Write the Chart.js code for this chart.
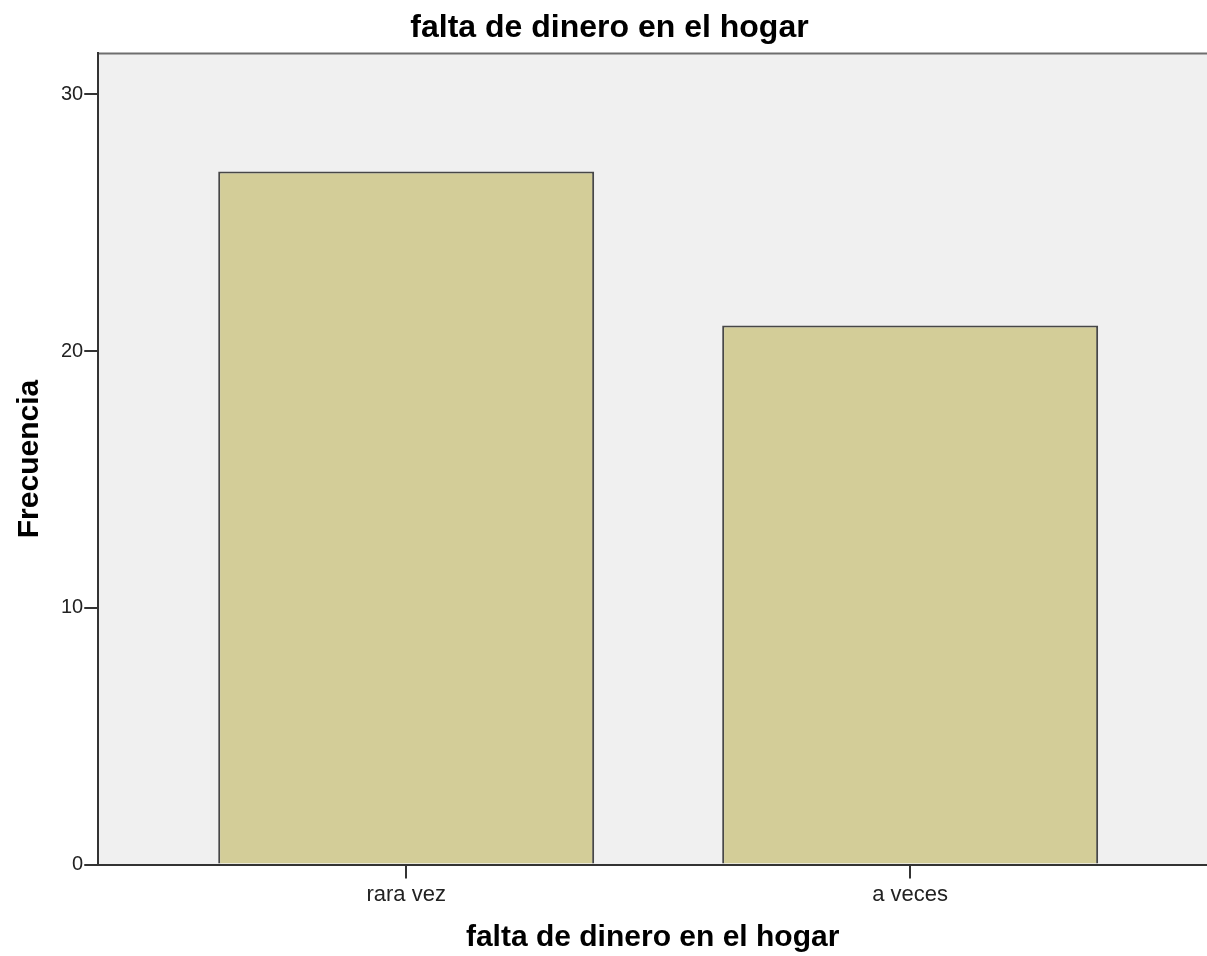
<!DOCTYPE html>
<html>
<head>
<meta charset="utf-8">
<script src="https://cdn.jsdelivr.net/npm/chart.js@4"></script>
<style>
  html, body { margin: 0; padding: 0; background: #fff; }
  #wrap { width: 1207px; height: 956px; }
</style>
</head>
<body>
<div id="wrap"><canvas id="myChart" width="1207" height="956"></canvas></div>
<script>
const categories = ["rara vez", "a veces"];
const frecuencias = [27, 21];
const yTicks = [0, 10, 20, 30];

const FONT = "'Liberation Sans', Arial, sans-serif";

// fondo gris del area de trazado y borde superior
const plotBackground = {
    id: 'plotBackground',
    beforeDraw(chart) {
        const { ctx, chartArea } = chart;
        ctx.save();
        ctx.fillStyle = '#f0f0f0';
        ctx.fillRect(chartArea.left, chartArea.top, chartArea.right - chartArea.left, chartArea.bottom - chartArea.top);
        ctx.strokeStyle = '#6e6e6e';
        ctx.lineWidth = 2;
        ctx.beginPath();
        ctx.moveTo(chartArea.left, chartArea.top);
        ctx.lineTo(chartArea.right, chartArea.top);
        ctx.stroke();
        ctx.restore();
    }
};

const ctx = document.getElementById('myChart').getContext('2d');
const myChart = new Chart(ctx, {
    type: 'bar',
    data: {
        datasets: [{
            data: frecuencias.map((v, i) => ({ x: i, y: v })),
            backgroundColor: '#d3cd98',
            borderColor: '#474747',
            borderWidth: 2,
            borderSkipped: 'bottom',
            barPercentage: 1,
            categoryPercentage: 0.746,
        }],
    },
    options: {
        responsive: false,
        animation: false,
        layout: { padding: { left: 12, right: 0, top: 4, bottom: 0 } },
        plugins: {
            legend: { display: false },
            tooltip: { enabled: false },
            title: {
                display: true,
                text: 'falta de dinero en el hogar',
                color: '#000',
                font: { family: FONT, size: 32, weight: 'bold' },
                padding: { top: 5, bottom: 6 },
            },
        },
        scales: {
            x: {
                type: 'linear',
                offset: false,
                min: -0.611,
                max: 1.589,
                afterBuildTicks: (axis) => { axis.ticks = categories.map((c, i) => ({ value: i })); },
                ticks: {
                    callback: (v) => categories[v],
                    color: '#222',
                    font: { family: FONT, size: 22 },
                    padding: 3,
                    maxRotation: 0,
                },
                grid: { offset: false, drawOnChartArea: false, drawTicks: true, tickLength: 14, color: '#333', lineWidth: 2 },
                border: { display: true, color: '#333', width: 2 },
                title: {
                    display: true,
                    text: 'falta de dinero en el hogar',
                    color: '#000',
                    font: { family: FONT, size: 30, weight: 'bold' },
                    padding: { top: 9, bottom: 0 },
                },
            },
            y: {
                min: 0,
                max: 31.6,
                afterBuildTicks: (axis) => { axis.ticks = yTicks.map(v => ({ value: v })); },
                ticks: {
                    color: '#222',
                    font: { family: FONT, size: 20 },
                    padding: 1,
                },
                grid: { drawOnChartArea: false, drawTicks: true, tickLength: 14, color: '#333', lineWidth: 2 },
                border: { display: true, color: '#333', width: 2 },
                title: {
                    display: true,
                    text: 'Frecuencia',
                    color: '#000',
                    font: { family: FONT, size: 30, weight: 'bold' },
                    padding: { top: 0, bottom: 12 },
                },
            },
        },
    },
    plugins: [plotBackground],
});
</script>
</body>
</html>
